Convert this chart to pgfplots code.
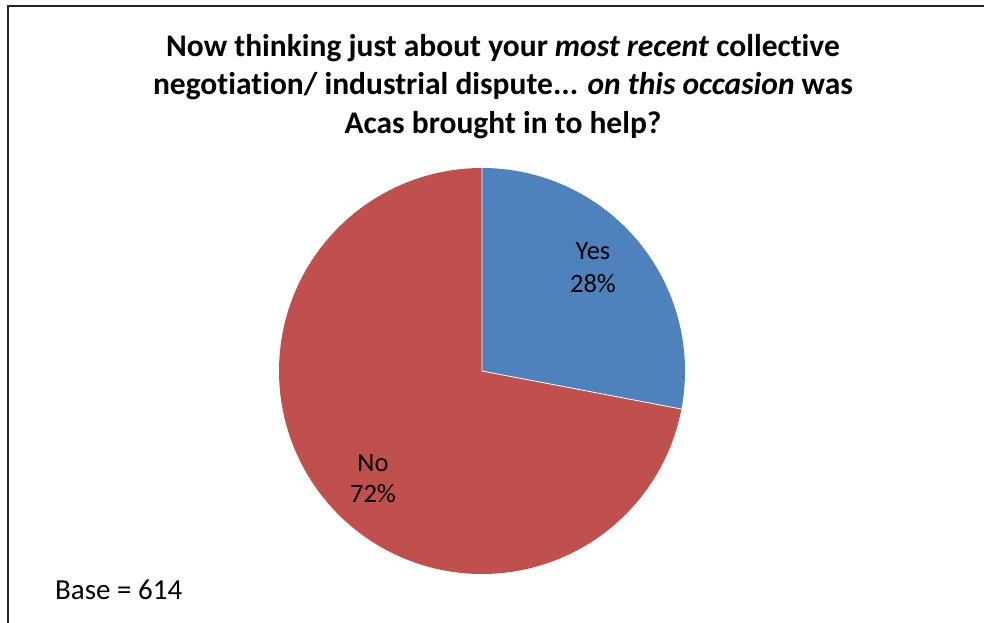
\documentclass[border=0pt]{standalone}
\usepackage{pgfplots}
\pgfplotsset{compat=1.18}
\usepackage{pgfplotstable}
\usepackage{fontspec}
\setmainfont{Carlito}[Ligatures=NoCommon]
\definecolor{pieblue}{HTML}{4F81BD}
\definecolor{piered}{HTML}{C0504D}
\definecolor{framegray}{HTML}{262626}
\pgfplotstableread{
label value
Yes 28
No 72
}\piedata
\pgfplotstablegetelem{0}{value}\of\piedata
\let\valyes\pgfplotsretval
\pgfplotstablegetelem{1}{value}\of\piedata
\let\valno\pgfplotsretval
\pgfmathsetmacro{\angA}{90}
\pgfmathsetmacro{\angB}{90-3.6*\valyes}
\pgfmathsetmacro{\angC}{\angB-3.6*\valno}
\begin{document}
\begin{tikzpicture}
\useasboundingbox (0,0) rectangle (984pt,623pt);
\fill[white] (0,0) rectangle (984pt,623pt);
\begin{axis}[
  anchor=origin, at={(0,0)},
  x=1pt, y=1pt,
  xmin=0, xmax=984, ymin=0, ymax=623,
  hide axis, clip=false,
]
% pie slices
\addplot[fill=pieblue, draw=none, domain=\angA:\angB, samples=150, variable=\t]
  ({482+203*cos(\t)}, {252+203*sin(\t)}) -- (axis cs:482,252) -- cycle;
\addplot[fill=piered, draw=none, domain=\angB:\angC, samples=300, variable=\t]
  ({482+203*cos(\t)}, {252+203*sin(\t)}) -- (axis cs:482,252) -- cycle;
\draw[white, line width=0.8pt] (axis cs:482,455) -- (axis cs:482,252)
  -- (axis cs:{482+203*cos(\angB)},{252+203*sin(\angB)});
% frame
\draw[framegray, line width=2pt] (axis cs:8,-5) -- (axis cs:8,617) -- (axis cs:990,617);
% title
\begin{scope}[every node/.style={anchor=base, inner sep=0pt, font=\fontsize{31.5}{36}\selectfont\bfseries}]
\node at (axis cs:503,566.5) {Now thinking just about your \textit{most recent} collective};
\node at (axis cs:503,528) {negotiation/ industrial dispute... \textit{on this occasion} was};
\node at (axis cs:503,489.5) {Acas brought in to help?};
\end{scope}
% labels
\begin{scope}[every node/.style={anchor=base, inner sep=0pt, font=\fontsize{26.5}{30}\selectfont}]
\node at (axis cs:593,363) {Yes};
\node at (axis cs:593,330) {28\%};
\node at (axis cs:373,151) {No};
\node at (axis cs:373,120) {72\%};
\node[anchor=base west, font=\fontsize{29}{32}\selectfont] at (axis cs:55,24) {Base = 614};
\end{scope}
\end{axis}
\end{tikzpicture}
\end{document}
